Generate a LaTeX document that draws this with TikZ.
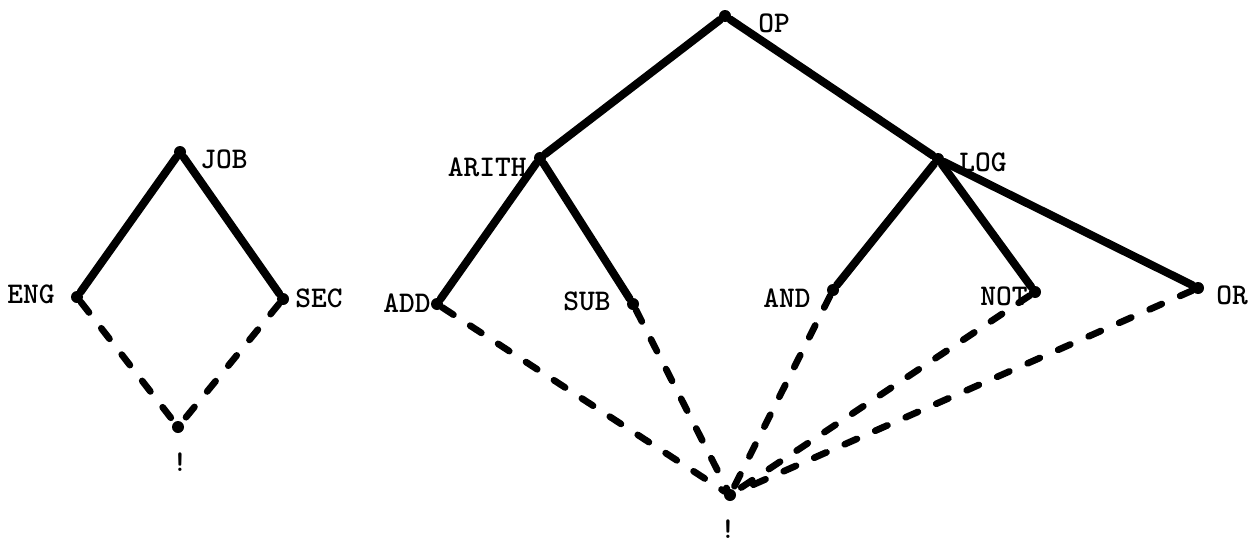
\documentclass[tikz,border=0pt]{standalone}
\usepackage{fontspec}
\newfontfamily\lblfont{lmmonolt10-bold.otf}
\begin{document}
\begin{tikzpicture}[x=0.75pt,y=-0.75pt,
  dot/.style={circle,fill=black,inner sep=0pt,minimum size=9pt},
  lbl/.style={font=\fontsize{22.5}{22.5}\selectfont\lblfont,inner sep=0pt},
  tree/.style={line width=6pt,line cap=round},
  lat/.style={line width=5pt,dash pattern=on 10pt off 15pt,line cap=round}]
\useasboundingbox (0,0) rectangle (1259,546);
% left lattice
\node[dot] (job) at (180,152) {};
\node[dot] (eng) at (77,297) {};
\node[dot] (sec) at (283,299) {};
\node[dot] (bl) at (178,427) {};
\node[lbl,anchor=west] (tjob) at (200,159) {JOB};
\node[lbl,anchor=east] (teng) at (55,294) {ENG};
\node[lbl,anchor=west] (tsec) at (295,298) {SEC};
\node[lbl] (tbl) at (180,462) {!};
\draw[tree] (job) -- (eng);
\draw[tree] (job) -- (sec);
\draw[lat] (eng) -- (bl);
\draw[lat] (sec) -- (bl);
% right lattice
\node[dot] (op) at (725,16) {};
\node[dot] (arith) at (540,158) {};
\node[dot] (log) at (938,159) {};
\node[dot] (add) at (437,304) {};
\node[dot] (sub) at (633,304) {};
\node[dot] (and) at (833,290) {};
\node[dot] (not) at (1035,292) {};
\node[dot] (or) at (1198,288) {};
\node[dot] (br) at (730,495) {};
\node[lbl,anchor=west] (top) at (758,23) {OP};
\node[lbl,anchor=east] (tarith) at (527,167) {ARITH};
\node[lbl,anchor=west] (tlog) at (959,162) {LOG};
\node[lbl,anchor=east] (tadd) at (431,303) {ADD};
\node[lbl,anchor=east] (tsub) at (611,301) {SUB};
\node[lbl,anchor=east] (tand) at (811,298) {AND};
\node[lbl,anchor=east] (tnot) at (1028,296) {NOT};
\node[lbl,anchor=west] (tor) at (1216,295) {OR};
\node[lbl] (tbr) at (728,529) {!};
\draw[tree] (op) -- (arith);
\draw[tree] (op) -- (log);
\draw[tree] (arith) -- (add);
\draw[tree] (arith) -- (sub);
\draw[tree] (log) -- (and);
\draw[tree] (log) -- (not);
\draw[tree] (log) -- (or);
\draw[lat] (add) -- (br);
\draw[lat] (sub) -- (br);
\draw[lat] (and) -- (br);
\draw[lat] (not) -- (br);
\draw[lat] (or) -- (br);
\end{tikzpicture}
\end{document}
